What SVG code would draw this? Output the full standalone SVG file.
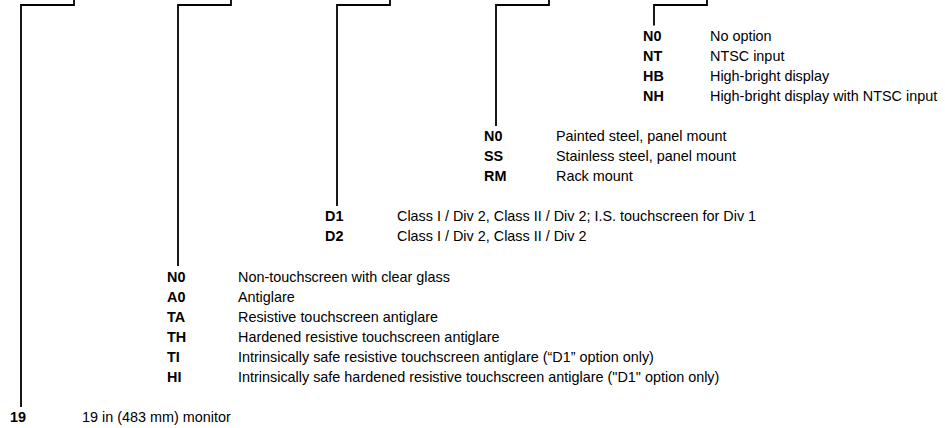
<svg xmlns="http://www.w3.org/2000/svg" width="945" height="428" viewBox="0 0 945 428">
<style>
text{font-family:"Liberation Sans",Arial,Helvetica,sans-serif;font-size:14.4px;fill:#000}
.c{font-weight:bold}
.ln{fill:none;stroke:#000;stroke-width:1.8;stroke-linejoin:miter}
</style>
<rect width="945" height="428" fill="#fff"/>
<g id="connectors">
<path class="ln" d="M21,407 V5 H74 V-3"/>
<path class="ln" d="M178,266 V5 H231 V-3"/>
<path class="ln" d="M337,206 V5 H390 V-3"/>
<path class="ln" d="M496,126 V5 H549 V-3"/>
<path class="ln" d="M654,25.5 V5 H707 V-3"/>
</g>
<g id="display-option">
<text class="c" x="643" y="40.5">N0</text><text x="710" y="40.5">No option</text>
<text class="c" x="643" y="60.6">NT</text><text x="710" y="60.6">NTSC input</text>
<text class="c" x="643" y="80.7">HB</text><text x="710" y="80.7">High-bright display</text>
<text class="c" x="643" y="100.8">NH</text><text x="710" y="100.8">High-bright display with NTSC input</text>
</g>
<g id="mounting">
<text class="c" x="484" y="140.9">N0</text><text x="556" y="140.9">Painted steel, panel mount</text>
<text class="c" x="484" y="161">SS</text><text x="556" y="161">Stainless steel, panel mount</text>
<text class="c" x="484" y="181.1">RM</text><text x="556" y="181.1">Rack mount</text>
</g>
<g id="classification">
<text class="c" x="325" y="221.3">D1</text><text x="397" y="221.3">Class I / Div 2, Class II / Div 2; I.S. touchscreen for Div 1</text>
<text class="c" x="325" y="241.4">D2</text><text x="397" y="241.4">Class I / Div 2, Class II / Div 2</text>
</g>
<g id="screen">
<text class="c" x="167" y="281.5">N0</text><text x="238" y="281.5">Non-touchscreen with clear glass</text>
<text class="c" x="167" y="301.6">A0</text><text x="238" y="301.6">Antiglare</text>
<text class="c" x="167" y="321.7">TA</text><text x="238" y="321.7">Resistive touchscreen antiglare</text>
<text class="c" x="167" y="341.8">TH</text><text x="238" y="341.8">Hardened resistive touchscreen antiglare</text>
<text class="c" x="167" y="361.9">TI</text><text x="238" y="361.9">Intrinsically safe resistive touchscreen antiglare (“D1” option only)</text>
<text class="c" x="167" y="382">HI</text><text x="238" y="382">Intrinsically safe hardened resistive touchscreen antiglare ("D1" option only)</text>
</g>
<g id="size">
<text class="c" x="10" y="422">19</text><text x="82" y="422">19 in (483 mm) monitor</text>
</g>
</svg>
